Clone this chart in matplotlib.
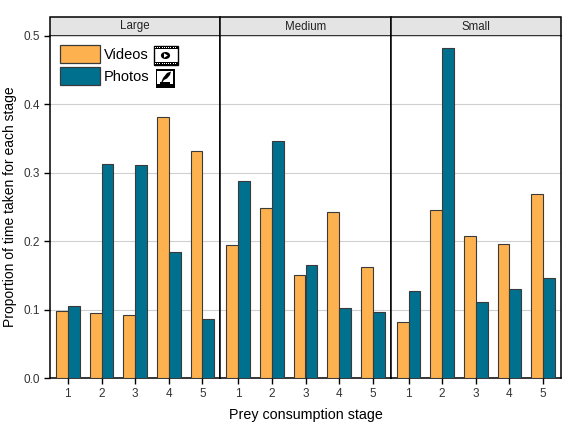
import numpy as np
import matplotlib.pyplot as plt
from matplotlib.patches import Rectangle, Circle, Polygon

plt.rcParams['font.family'] = ['Liberation Sans', 'DejaVu Sans']

# Daten
sizes = ['Large', 'Medium', 'Small']
stages = [1, 2, 3, 4, 5]
videos = {
    'Large':  [0.098, 0.096, 0.092, 0.381, 0.332],
    'Medium': [0.195, 0.249, 0.151, 0.243, 0.163],
    'Small':  [0.082, 0.245, 0.208, 0.196, 0.269],
}
photos = {
    'Large':  [0.106, 0.313, 0.311, 0.184, 0.086],
    'Medium': [0.288, 0.346, 0.166, 0.102, 0.097],
    'Small':  [0.127, 0.482, 0.112, 0.131, 0.146],
}

c_vid = '#FDB24F'
c_pho = '#00708F'
edge = '#3a3a3a'

fig = plt.figure(figsize=(5.69, 4.36), dpi=100)
W, H = 569, 436
left, right = 50 / W, 561 / W
bottom, top = 1 - 378.3 / H, 1 - 35.7 / H
pw = (right - left) / 3
strip_h = 18.4 / H

axes = []
for k, s in enumerate(sizes):
    ax = fig.add_axes([left + k * pw, bottom, pw, top - bottom])
    x = np.array(stages)
    ax.bar(x - 0.175, videos[s], width=0.35, color=c_vid, edgecolor=edge, linewidth=0.8, zorder=3)
    ax.bar(x + 0.175, photos[s], width=0.35, color=c_pho, edgecolor=edge, linewidth=0.8, zorder=3)
    ax.set_xlim(0.47, 5.53)
    ax.set_ylim(0, 0.5)
    ax.set_xticks(stages)
    ax.set_yticks([0.0, 0.1, 0.2, 0.3, 0.4, 0.5])
    ax.yaxis.grid(True, color='#d0d0d0', linewidth=0.8, zorder=0)
    ax.tick_params(axis='both', labelsize=8.5, length=4, width=1.0, color='black', pad=3)
    ax.tick_params(axis='both', labelcolor='#333333')
    for sp in ax.spines.values():
        sp.set_linewidth(1.1)
    ax.spines['top'].set_visible(False)
    if k > 0:
        ax.tick_params(axis='y', left=False, labelleft=False)
    # Streifen oben
    ax.add_patch(Rectangle((0, 1), 1, strip_h / (top - bottom), transform=ax.transAxes,
                           facecolor='#e4e4e4', edgecolor='black', linewidth=1.1, clip_on=False))
    ax.text(0.5, 1 + 0.5 * strip_h / (top - bottom), s, transform=ax.transAxes,
            ha='center', va='center', fontsize=8.3, color='#222222')
    axes.append(ax)

axes[0].set_ylabel('Proportion of time taken for each stage', fontsize=10, labelpad=5)
fig.text((left + right) / 2, 1 - 415 / H, 'Prey consumption stage', ha='center', va='center', fontsize=10.3)

# Legende (Pixelkoordinaten der Figur)
def px(xp, yp):
    return xp / W, 1 - yp / H

def box(x0, y0, x1, y1, **kw):
    fx, fy = px(x0, y1)
    fig.patches.append(Rectangle((fx, fy), (x1 - x0) / W, (y1 - y0) / H,
                                 transform=fig.transFigure, **kw))

box(60, 45, 99.5, 63.3, facecolor=c_vid, edgecolor=edge, linewidth=0.9)
box(60, 66.7, 99.5, 85.3, facecolor=c_pho, edgecolor=edge, linewidth=0.9)
fig.text(*px(104, 55), 'Videos', ha='left', va='center', fontsize=10.5)
fig.text(*px(104, 77), 'Photos', ha='left', va='center', fontsize=10.5)

# Film-Symbol
box(153.5, 46, 177.5, 65, facecolor='white', edgecolor='black', linewidth=1.0)
box(153.5, 46, 177.5, 49, facecolor='black', edgecolor='none')
box(153.5, 62, 177.5, 65, facecolor='black', edgecolor='none')
for xp in np.arange(155, 177, 2.2):
    box(xp, 46.8, xp + 1.0, 48.0, facecolor='white', edgecolor='none')
    box(xp, 63.0, xp + 1.0, 64.2, facecolor='white', edgecolor='none')
cx, cy = px(165.5, 55.5)
fig.patches.append(Circle((cx, cy), 4.6 / W, transform=fig.transFigure, facecolor='black'))
tri = [px(164.0, 53.2), px(164.0, 57.8), px(167.8, 55.5)]
fig.patches.append(Polygon(tri, closed=True, transform=fig.transFigure, facecolor='white', edgecolor='none'))

# Foto-Symbol
box(156, 69.5, 174.5, 88.5, facecolor='black', edgecolor='none')
box(157.3, 70.8, 173.2, 84.2, facecolor='white', edgecolor='none')
feder = [px(161, 83), px(163, 78), px(167, 73), px(171, 71.5), px(170, 75),
         px(167, 78.5), px(164, 80), px(162, 83)]
fig.patches.append(Polygon(feder, closed=True, transform=fig.transFigure, facecolor='black', edgecolor='none'))
box(160, 82.5, 170, 83.6, facecolor='black', edgecolor='none')

plt.savefig('out.png', dpi=100)
